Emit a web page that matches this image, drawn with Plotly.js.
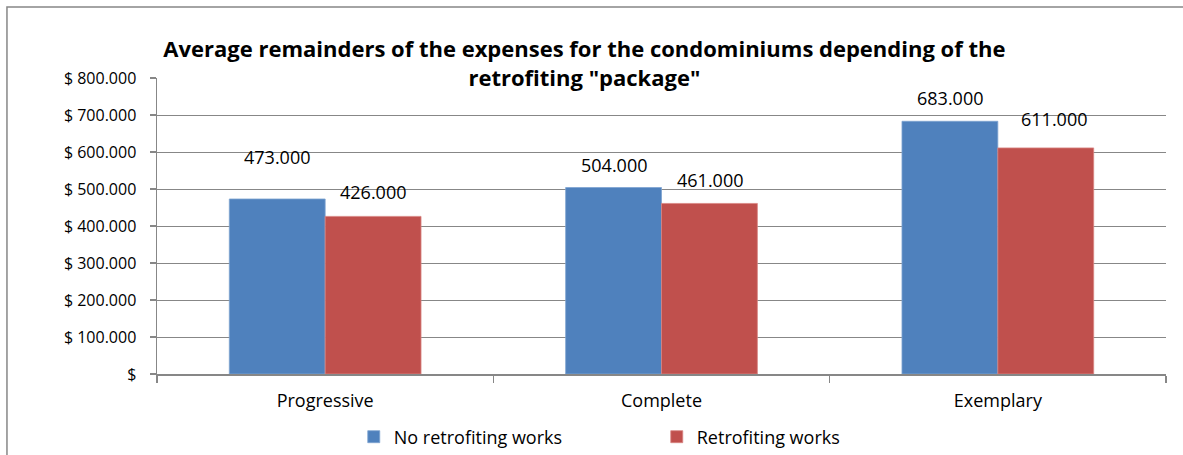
<!DOCTYPE html>
<html>
<head>
<meta charset="utf-8">
<script src="https://cdn.plot.ly/plotly-3.0.1.min.js"></script>
<style>html,body{margin:0;padding:0;background:#fff;}#chart{width:1183px;height:455px;}</style>
</head>
<body>
<div id="chart"></div>
<script>
const categories = ["Progressive", "Complete", "Exemplary"];
const noRetrofit = [473000, 504000, 683000];
const retrofit = [426000, 461000, 611000];
const seriesNames = ["No retrofiting works", "Retrofiting works"];
const tickValues = [0, 100000, 200000, 300000, 400000, 500000, 600000, 700000, 800000];
const tickLabels = ["$", "$ 100.000", "$ 200.000", "$ 300.000", "$ 400.000", "$ 500.000", "$ 600.000", "$ 700.000", "$ 800.000"];

// label pixel offsets (style only)
const shiftNo = [42, 23, 23];
const shiftRe = [24, 23, 29];

function fmt(v){ return (v/1000).toFixed(0) + ".000"; }

const FONT = "'Open Sans', Lato, sans-serif";
const GRAY = "#878787";

const traces = [
  {type:"bar", name:seriesNames[0], x:categories, y:noRetrofit,
   marker:{color:"#4F81BD", line:{color:"#7EA3D1", width:0.8}}, hoverinfo:"y"},
  {type:"bar", name:seriesNames[1], x:categories, y:retrofit,
   marker:{color:"#C0504D", line:{color:"#D88482", width:0.8}}, hoverinfo:"y"}
];

const annotations = [];
categories.forEach((c,i)=>{
  annotations.push({x:c, y:noRetrofit[i], xref:"x", yref:"y", text:fmt(noRetrofit[i]),
    showarrow:false, xshift:-48, yshift:shiftNo[i], yanchor:"middle",
    font:{family:FONT, size:18, color:"#000"}});
  annotations.push({x:c, y:retrofit[i], xref:"x", yref:"y", text:fmt(retrofit[i]),
    showarrow:false, xshift:48 + (i===2?8:0), yshift:shiftRe[i], yanchor:"middle",
    font:{family:FONT, size:18, color:"#000"}});
});

const layout = {
  width:1183, height:455,
  margin:{l:157, r:17, t:78, b:81, autoexpand:false},
  paper_bgcolor:"#fff", plot_bgcolor:"#fff",
  font:{family:FONT, color:"#000"},
  title:{text:'Average remainders of the expenses for the condominiums depending of the<br>retrofiting "package"',
    font:{family:FONT, size:22, color:"#000", weight:"bold"},
    x:0.494, xref:"container", xanchor:"center",
    y:1-57/455, yref:"container", yanchor:"middle"},
  barmode:"group", bargap:0.43, bargroupgap:0,
  xaxis:{type:"category", showline:true, linecolor:GRAY, linewidth:1.5,
    ticks:"outside", tickson:"boundaries", ticklen:7, tickcolor:GRAY, tickwidth:1.5,
    showgrid:false, tickfont:{family:FONT, size:18, color:"#000"}, ticklabelstandoff:10, fixedrange:true},
  yaxis:{range:[0,800000], tickvals:tickValues, ticktext:tickLabels,
    showline:true, linecolor:GRAY, linewidth:1.5,
    ticks:"outside", ticklen:6, tickcolor:GRAY, tickwidth:1.5,
    showgrid:true, gridcolor:GRAY, gridwidth:1, zeroline:false,
    tickfont:{family:FONT, size:16, color:"#000"}, ticklabelstandoff:10, fixedrange:true},
  legend:{orientation:"h", x:0.195, xanchor:"left", xref:"paper",
    y:1-437/455, yref:"container", yanchor:"middle",
    entrywidth:258, entrywidthmode:"pixels",
    font:{family:FONT, size:18, color:"#000"}, bgcolor:"rgba(0,0,0,0)"},
  annotations:annotations,
  shapes:[{type:"rect", xref:"paper", yref:"paper", x0:-0.1487, x1:1.2, y0:-0.6, y1:1.2399,
    line:{color:GRAY, width:1.5}, fillcolor:"rgba(0,0,0,0)", layer:"below"}],
  showlegend:true
};

Plotly.newPlot("chart", traces, layout, {displayModeBar:false, staticPlot:true});
</script>
</body>
</html>
